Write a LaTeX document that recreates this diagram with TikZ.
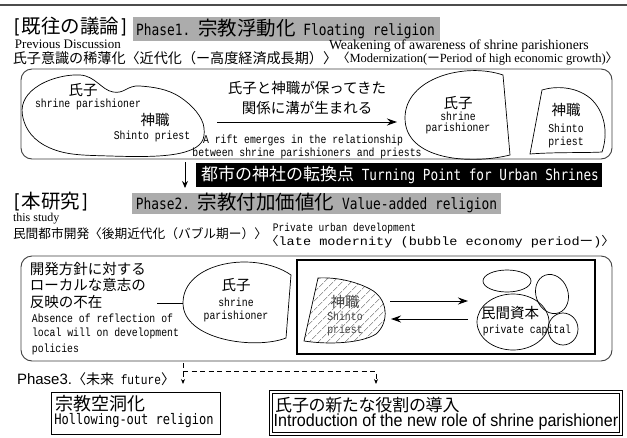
\documentclass[tikz,border=0pt]{standalone}
\usepackage{graphicx}
\usepackage{fontspec}
\setmainfont{Liberation Serif}
\newfontfamily\jp{Noto Sans CJK JP}
\newfontfamily\jpp[RawFeature=+palt]{Noto Sans CJK JP}
\newfontfamily\mono{Liberation Mono}
\newfontfamily\gmono{DejaVu Sans Mono}
\newfontfamily\lsans{Liberation Sans}
\usetikzlibrary{arrows.meta,patterns.meta}
\definecolor{phasegray}{RGB}{172,172,172}
\newcommand\fs[1]{\fontsize{#1pt}{#1pt}\selectfont}
\newcommand\en[1]{\scalebox{0.83}[1]{\mono\fs{11.8}#1}}
\newcommand\gl[2]{\scalebox{0.83}[1]{\gmono\fs{#1}#2}}
\begin{document}
\begin{tikzpicture}[x=1pt,y=-1pt,
  every node/.style={inner sep=0pt, outer sep=0pt},
  jm/.style={font=\jp\fs{14.5}},
  arr/.style={-{Stealth[length=10pt,width=7pt]}, line width=1pt},
  smallarr/.style={-{Stealth[length=7pt,width=6pt]}, line width=1pt},
  dasharr/.style={-{Stealth[length=5pt,width=4pt]}, line width=0.8pt, dash pattern=on 5pt off 3.5pt},
  roundbox/.style={draw=black!75, line width=0.9pt, rounded corners=11pt},
  blob/.style={draw=black, line width=0.7pt},
  plainbox/.style={anchor=north west},
]
\useasboundingbox (0,0) rectangle (627,437);
\fill[white] (0,0) rectangle (627,437);
\draw[line width=2pt, black!70] (0,5) -- (627,5);

% ---------- Phase 1 header
\node[anchor=west] (h1) at (12,27) {\jp\fs{19.5}\gl{19.5}{[}既往の議論\gl{19.5}{]}};
\node[plainbox, fill=phasegray, minimum width=307pt, minimum height=24pt] (p1box) at (133,17) {};
\node (p1) at (285.5,29)
  {\jp\fs{19.5}\gl{15.5}{Phase1.\ }宗教浮動化\gl{15.5}{\ Floating religion}};
\node[anchor=west] (prev) at (15,44.5) {\fs{13}Previous Discussion};
\node[anchor=west] (weak) at (329,46) {\fs{13.8}Weakening of awareness of shrine parishioners};
\node (uji) at (175,58) {\jp\fs{14.1}氏子意識の稀薄化〈近代化（ー高度経済成長期）〉};
\node[anchor=west] (mod) at (337,59) {\fs{12.5}{\jp〈}Modernization({\jp ー}Period of high economic growth){\jp〉}};

% ---------- Box 1
\node[roundbox, anchor=north west, minimum width=591pt, minimum height=90pt] (box1) at (21,69) {};
\draw[blob] plot[smooth cycle, tension=0.7] coordinates {(23,118) (35,88) (80,75) (113,92) (140,86) (180,97) (204,128) (185,152) (110,156) (50,148)};
\node[jm] (l1) at (83,90) {氏子};
\node (l2) at (88,104) {\en{shrine parishioner}};
\node[jm] (l3) at (155,120) {神職};
\node (l4) at (152,136) {\en{Shinto priest}};

\node[jm] (t1) at (307,88) {氏子と神職が保ってきた};
\node[jm] (t2) at (307,108) {関係に溝が生まれる};
\coordinate (a1s) at (217,122);
\coordinate (a1e) at (397,122);
\draw[arr] (a1s) -- (a1e);
\node (t3) at (303,140) {\en{A rift emerges in the relationship}};
\node (t4) at (307,153) {\en{between shrine parishioners and priests}};

\draw[blob] (503,75) -- (510,155) .. controls (470,165) and (405,160) .. (405,118) .. controls (405,78) and (465,62) .. (503,75) -- cycle;
\node[jm] (r1) at (458,103) {氏子};
\node (r2) at (458,116) {\en{shrine}};
\node (r3) at (458,128) {\en{parishioner}};

\draw[blob] (542,90) -- (530,154) .. controls (555,152) and (585,153) .. (602,152) .. controls (608,135) and (606,112) .. (590,98) .. controls (575,86) and (555,86) .. (542,90) -- cycle;
\node[jm] (s1) at (566,110) {神職};
\node (s2) at (566,128) {\en{Shinto}};
\node (s3) at (566,142) {\en{priest}};

% ---------- turning point
\coordinate (d1) at (185,162);
\coordinate (d2) at (185,188);
\draw[smallarr] (d1) -- (d2);
\node[plainbox, fill=black, minimum width=406pt, minimum height=24pt] (banbox) at (196,163) {};
\node[text=white] (ban) at (400,175)
  {\jp\fs{17}都市の神社の転換点\gl{15.3}{\ Turning Point for Urban Shrines}};

% ---------- Phase 2 header
\node[anchor=west] (h2) at (12,202) {\jp\fs{19.5}\gl{19.5}{[}本研究\gl{19.5}{]}};
\node[plainbox, fill=phasegray, minimum width=369pt, minimum height=21pt] (p2box) at (132,193) {};
\node (p2) at (316.5,203)
  {\jp\fs{19.5}\gl{15.5}{Phase2.\ }宗教付加価値化\gl{15.5}{\ Value-added religion}};
\node[anchor=west] (ts) at (13,219) {\fs{12}this study};
\node (minkan) at (140,234) {\jp\fs{12.7}民間都市開発〈後期近代化（バブル期ー）〉};
\node (pud) at (344.5,229) {\scalebox{0.83}[1]{\mono\fs{11.5}Private urban development}};
\node (late) at (440,242) {\scalebox{1.13}[1]{\mono\fs{12}{\jp〈}late modernity (bubble economy period{\jp ー}){\jp〉}}};

% ---------- Box 2
\node[roundbox, anchor=north west, minimum width=591pt, minimum height=105pt] (box2) at (21,256) {};
\node[jm, anchor=west] (b1) at (30,269) {開発方針に対する};
\node[jm, anchor=west] (b2) at (30,285) {ローカルな意志の};
\node[jm, anchor=west] (b3) at (30,302) {反映の不在};
\node (b4) at (102.5,318) {\en{Absence of reflection of}};
\node (b5) at (105.5,333) {\en{local will on development}};
\node (b6) at (55.5,349) {\en{policies}};
\coordinate (c1) at (157,303);
\coordinate (c2) at (183,303);
\draw[line width=0.8pt] (c1) -- (c2);

\draw[blob] (291,275) -- (286,338) .. controls (255,350) and (183,340) .. (183,303) .. controls (183,262) and (255,250) .. (291,275) -- cycle;
\node[jm] (e1) at (236,285) {氏子};
\node (e2) at (236,302) {\en{shrine}};
\node (e3) at (236,316) {\en{parishioner}};

\node[draw, line width=1.3pt, anchor=north west, minimum width=298pt, minimum height=94pt] (inner) at (297,260) {};

\draw[blob, pattern={Lines[angle=45,distance=6.5pt,line width=0.6pt]}, pattern color=black!60]
  (318,278) -- (304,341) .. controls (330,345) and (362,343) .. (376,334) .. controls (390,322) and (388,298) .. (370,289) .. controls (355,281) and (335,277) .. (318,278) -- cycle;
\node[jm, text=black!75] (k1) at (345,302) {神職};
\node[text=black!75] (k2) at (345,316) {\en{Shinto}};
\node[text=black!75] (k3) at (345,330) {\en{priest}};

\coordinate (ar1) at (390,301);
\coordinate (ar2) at (468,301);
\draw[arr] (ar1) -- (ar2);
\coordinate (al1) at (468,319);
\coordinate (al2) at (391,319);
\draw[arr] (al1) -- (al2);

\draw[blob] (507,281) ellipse [x radius=24, y radius=11];
\draw[blob, rotate around={20:(552,294)}] (552,294) ellipse [x radius=16, y radius=20];
\draw[blob] (513,322) ellipse [x radius=36, y radius=28];
\draw[blob] (563,329) ellipse [x radius=15, y radius=16];
\node[jm] (m1) at (510,313) {民間資本};
\node (m2) at (527,330) {\en{private capital}};

% ---------- Phase 3
\node[anchor=west] (ph3) at (17,379) {{\lsans\fs{15}Phase3.}{\jp\fs{14}〈未来}\scalebox{0.83}[1]{\mono\fs{13.5}\ future}{\jp\fs{14}〉}};
\coordinate (dv0) at (183,363);
\coordinate (dv1) at (183,384);
\coordinate (dh0) at (183,371);
\coordinate (dh1) at (376,371);
\coordinate (dv2) at (376,384);
\draw[dasharr] (dv0) -- (dv1);
\draw[dasharr] (dh0) -- (dh1) -- (dv2);

\node[draw, line width=1pt, anchor=north west, minimum width=169pt, minimum height=42pt] (bl) at (51,392) {};
\node[anchor=west] (bl1) at (55,404) {\jp\fs{18}宗教空洞化};
\node (bl2) at (134,421) {\gl{14.5}{Hollowing-out religion}};

\node[draw, line width=0.8pt, anchor=north west, minimum width=353pt, minimum height=45pt] (brout) at (269,390) {};
\node[draw, line width=0.8pt, anchor=north west, minimum width=347pt, minimum height=39pt] (brin) at (272,393) {};
\node[anchor=west] (br1) at (275,405) {\jpp\fs{17}氏子の新たな役割の導入};
\node (br2) at (446,422) {\scalebox{0.92}[1]{\lsans\fs{17.5}Introduction of the new role of shrine parishioner}};
\end{tikzpicture}
\end{document}
